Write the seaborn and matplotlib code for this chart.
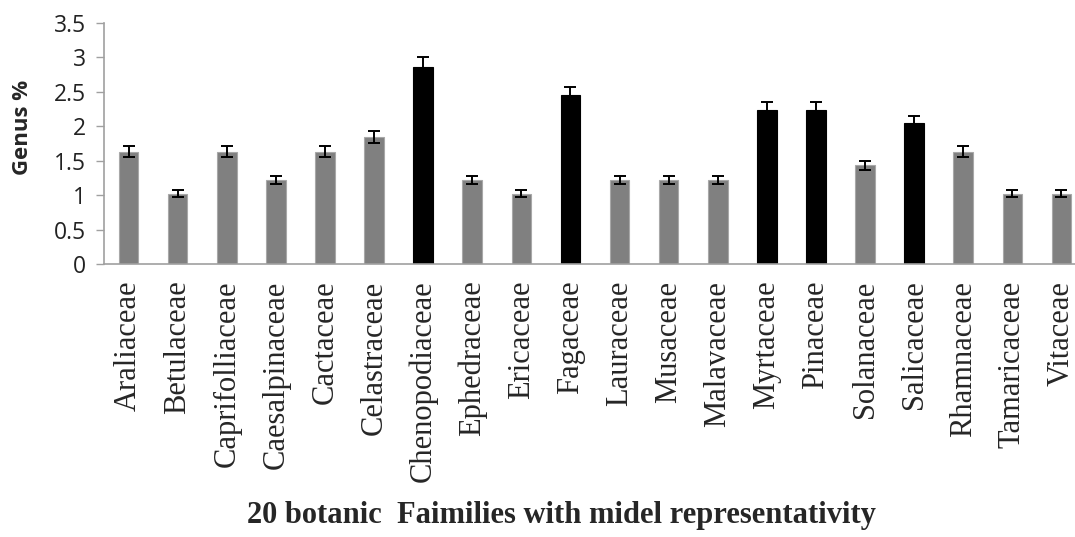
import numpy as np
import pandas as pd
import matplotlib
matplotlib.use("Agg")
import matplotlib.pyplot as plt
import seaborn as sns

families = ["Araliaceae", "Betulaceae", "Caprifolliaceae", "Caesalpinaceae", "Cactaceae",
            "Celastraceae", "Chenopodiaceae", "Ephedraceae", "Ericaceae", "Fagaceae",
            "Lauraceae", "Musaceae", "Malavaceae", "Myrtaceae", "Pinaceae",
            "Solanaceae", "Salicaceae", "Rhamnaceae", "Tamaricaceae", "Vitaceae"]
genus_pct = [1.63, 1.02, 1.63, 1.22, 1.63, 1.84, 2.86, 1.22, 1.02, 2.45,
             1.22, 1.22, 1.22, 2.24, 2.24, 1.43, 2.04, 1.63, 1.02, 1.02]
errors = [0.08, 0.05, 0.08, 0.06, 0.08, 0.09, 0.14, 0.06, 0.05, 0.12,
          0.06, 0.06, 0.06, 0.11, 0.11, 0.07, 0.10, 0.08, 0.05, 0.05]
highlight = ["Chenopodiaceae", "Fagaceae", "Myrtaceae", "Pinaceae", "Salicaceae"]
yticks = [0, 0.5, 1, 1.5, 2, 2.5, 3, 3.5]
ytick_labels = ["0", "0.5", "1", "1.5", "2", "2.5", "3", "3.5"]

df = pd.DataFrame({"family": families, "pct": genus_pct, "err": errors})
palette = {f: ("#000000" if f in highlight else "#808080") for f in families}
edges = ["#000000" if f in highlight else "#a8a8a8" for f in families]

sns.set_style("white")
fig = plt.figure(figsize=(10.75, 5.37), dpi=100)
ax = fig.add_axes([104 / 1075, 1 - 264 / 537, (1086 - 104) / 1075, (264 - 22.7) / 537])

sns.barplot(data=df, x="family", y="pct", hue="family", palette=palette,
            legend=False, width=0.4, ax=ax, errorbar=None, saturation=1)
for patch, ec in zip(ax.patches, edges):
    patch.set_edgecolor(ec)
    patch.set_linewidth(0.8)

ax.errorbar(np.arange(len(families)), df["pct"], yerr=df["err"], fmt="none",
            ecolor="black", elinewidth=1.4, capsize=4.5, capthick=1.4, zorder=5)

ax.set_xlim(-0.5, len(families) - 0.5)
ax.set_ylim(0, 3.5)
ax.set_yticks(yticks)
ax.set_yticklabels(ytick_labels, fontsize=16.5, family="Open Sans", color="#222222")

ax.set_xticks(np.arange(len(families) + 1) - 0.5)
ax.set_xticklabels([])
ax.set_xticks(np.arange(len(families)), minor=True)
ax.set_xticklabels(families, minor=True, rotation=90, fontsize=22,
                   family="Liberation Serif", va="top", ha="center")
ax.tick_params(axis="x", which="minor", length=0, pad=12)
ax.tick_params(axis="x", which="major", length=7, width=1, color="#a0a0a0", direction="out")
ax.tick_params(axis="y", length=6, width=1, color="#a0a0a0", direction="out", pad=7, left=True)

for s in ["top", "right"]:
    ax.spines[s].set_visible(False)
for s in ["left", "bottom"]:
    ax.spines[s].set_color("#a0a0a0")
    ax.spines[s].set_linewidth(1.2)

ax.set_xlabel("")
ax.set_ylabel("")
fig.text(23 / 1075, 1 - 127 / 537, "Genus %", rotation=90, ha="center", va="center",
         fontsize=16, fontweight="bold", family="Open Sans")
fig.text(561 / 1075, 1 - 516 / 537, "20 botanic  Faimilies with midel representativity",
         ha="center", va="center", fontsize=22, fontweight="bold", family="Liberation Serif")

fig.savefig("out.png", dpi=100)
